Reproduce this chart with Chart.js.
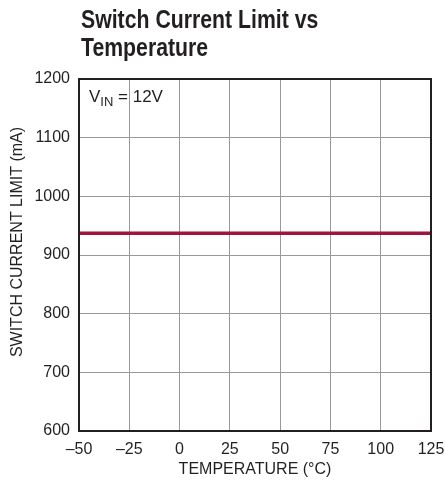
<!DOCTYPE html>
<html>
<head>
<meta charset="utf-8">
<script src="https://cdn.jsdelivr.net/npm/chart.js@4/dist/chart.umd.min.js"></script>
<style>
  body { margin: 0; background: #fff; }
  #wrap { position: relative; width: 446px; height: 489px; }
  #title {
    position: absolute; left: 81px; top: 5px;
    font: bold 25px "Liberation Sans", sans-serif;
    line-height: 28px; color: #231f20;
    transform: scaleX(0.85); transform-origin: left top;
    white-space: nowrap;
  }
</style>
</head>
<body>
<div id="wrap">
  <div id="title">Switch Current Limit vs<br>Temperature</div>
  <canvas id="chart" width="446" height="489"></canvas>
</div>
<script>
const temps = [-50, -25, 0, 25, 50, 75, 100, 125];
const currentLimit = [937, 937, 937, 937, 937, 937, 937, 937];
const xTicks = [-50, -25, 0, 25, 50, 75, 100, 125];
const yTicks = [600, 700, 800, 900, 1000, 1100, 1200];

const textColor = '#231f20';
const tickFont = { family: 'Liberation Sans', size: 16 };

// black frame round the plot, V_IN = 12V label and the y axis title
// (the y title sits a bit above centre in the original)
const extraText = {
    id: 'extraText',
    afterDraw(chart) {
        const ctx = chart.ctx;
        const a = chart.chartArea;
        ctx.save();
        ctx.strokeStyle = textColor;
        ctx.lineWidth = 2;
        ctx.strokeRect(a.left, a.top, a.right - a.left, a.bottom - a.top);

        ctx.fillStyle = textColor;
        ctx.textBaseline = 'alphabetic';
        ctx.textAlign = 'left';
        ctx.font = '17px "Liberation Sans"';
        let x = a.left + 10;
        const y = a.top + 23;
        ctx.fillText('V', x, y);
        x += ctx.measureText('V').width;
        ctx.font = '13px "Liberation Sans"';
        ctx.fillText('IN', x, y + 4);
        x += ctx.measureText('IN').width;
        ctx.font = '17px "Liberation Sans"';
        ctx.fillText(' = 12V', x, y);

        ctx.translate(18, 242);
        ctx.rotate(-Math.PI / 2);
        ctx.textAlign = 'center';
        ctx.textBaseline = 'middle';
        ctx.font = '16px "Liberation Sans"';
        ctx.fillText('SWITCH CURRENT LIMIT (mA)', 0, 0);
        ctx.restore();
    }
};

new Chart(document.querySelector('#chart').getContext('2d'), {
    type: 'line',
    data: {
        labels: temps,
        datasets: [{
            data: temps.map((t, i) => ({ x: t, y: currentLimit[i] })),
            borderColor: '#a0153e',
            borderWidth: 3.5,
            pointRadius: 0,
            tension: 0
        }]
    },
    options: {
        responsive: false,
        animation: false,
        layout: { padding: { top: 79, right: 15, left: 0, bottom: 0 } },
        plugins: { legend: { display: false }, tooltip: { enabled: false } },
        scales: {
            x: {
                type: 'linear',
                min: -50, max: 125,
                afterBuildTicks: s => { s.ticks = xTicks.map(v => ({ value: v })); },
                afterFit: s => { s.height = 58; s.paddingLeft = 0; s.paddingRight = 0; },
                grid: { color: '#999', lineWidth: 1, drawTicks: false },
                border: { color: '#231f20', width: 2 },
                ticks: {
                    color: textColor, font: tickFont, padding: 9, maxRotation: 0,
                    callback: v => String(v).replace('-', '\u2013')
                },
                title: {
                    display: true, text: 'TEMPERATURE (°C)', color: textColor,
                    font: { family: 'Liberation Sans', size: 16 }, padding: { top: 0, bottom: 10 }
                }
            },
            y: {
                min: 600, max: 1200,
                afterBuildTicks: s => { s.ticks = yTicks.map(v => ({ value: v })); },
                afterFit: s => { s.width = 79; s.paddingTop = 0; s.paddingBottom = 0; },
                grid: { color: '#999', lineWidth: 1, drawTicks: false },
                border: { color: '#231f20', width: 2 },
                ticks: { color: textColor, font: tickFont, padding: 9, callback: v => String(v) }
            }
        }
    },
    plugins: [extraText]
});
</script>
</body>
</html>
